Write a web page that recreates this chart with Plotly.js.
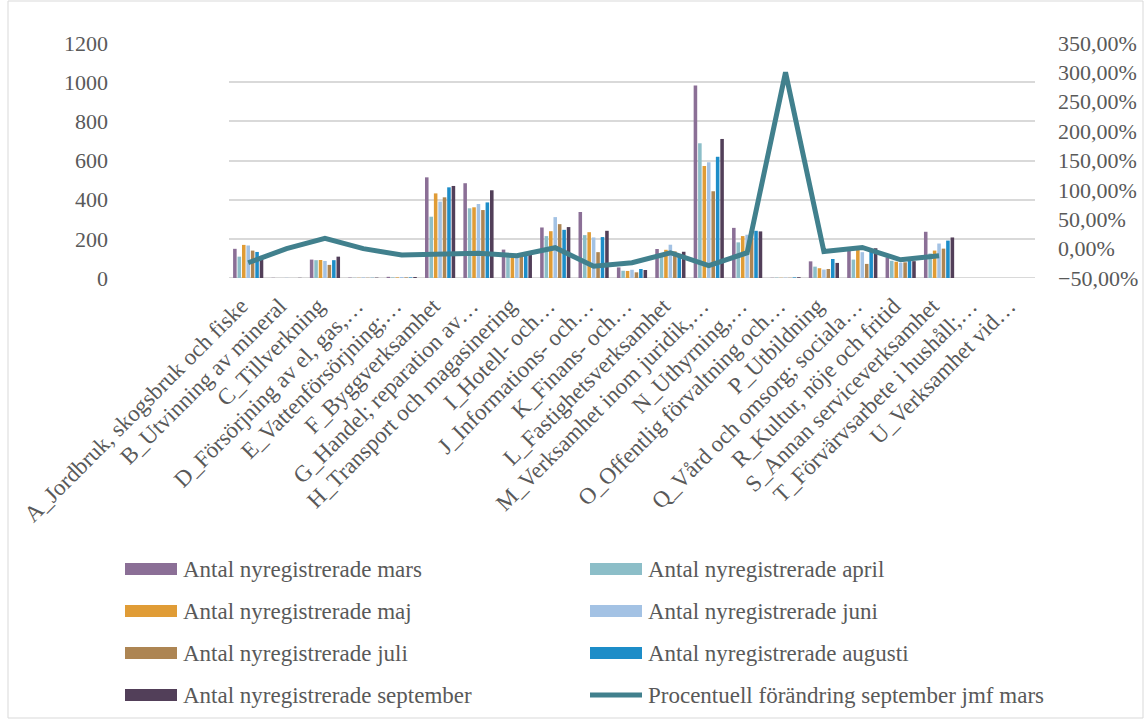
<!DOCTYPE html>
<html>
<head>
<meta charset="utf-8">
<script src="https://cdn.plot.ly/plotly-3.0.1.min.js"></script>
<style>
html,body{margin:0;padding:0;background:#fff;}
#chart{width:1144px;height:719px;}
</style>
</head>
<body>
<div id="chart"></div>
<script>
const categories = [
  "A_Jordbruk, skogsbruk och fiske",
  "B_Utvinning av mineral",
  "C_Tillverkning",
  "D_Försörjning av el, gas,…",
  "E_Vattenförsörjning;…",
  "F_Byggverksamhet",
  "G_Handel; reparation av…",
  "H_Transport och magasinering",
  "I_Hotell- och…",
  "J_Informations- och…",
  "K_Finans- och…",
  "L_Fastighetsverksamhet",
  "M_Verksamhet inom juridik,…",
  "N_Uthyrning,…",
  "O_Offentlig förvaltning och…",
  "P_Utbildning",
  "Q_Vård och omsorg; sociala…",
  "R_Kultur, nöje och fritid",
  "S_Annan serviceverksamhet",
  "T_Förvärvsarbete i hushåll;…",
  "U_Verksamhet vid…"
];
//                 A    B  C   D  E  F    G    H    I    J    K   L    M    N    O  P   Q    R    S    T  U
const mars      = [149, 1, 94, 2, 6, 514, 484, 145, 258, 337, 54, 148, 983, 256, 1, 85, 145, 105, 236, 0, 0];
const april     = [109, 0, 91, 1, 3, 313, 356, 110, 214, 219, 37, 115, 688, 182, 2, 58, 94,  88,  125, 0, 0];
const maj       = [169, 0, 92, 1, 3, 432, 361, 118, 239, 234, 36, 144, 572, 214, 1, 50, 145, 83,  140, 0, 0];
const juni      = [166, 1, 87, 3, 5, 390, 378, 115, 311, 207, 42, 170, 591, 221, 2, 43, 132, 78,  176, 0, 0];
const juli      = [140, 0, 67, 1, 3, 412, 347, 120, 275, 132, 29, 136, 443, 230, 1, 46, 72,  80,  150, 0, 0];
const augusti   = [133, 0, 91, 1, 3, 463, 386, 125, 246, 209, 46, 110, 619, 241, 3, 97, 137, 95,  191, 0, 0];
const september = [113, 1, 109, 2, 5, 470, 448, 128, 260, 241, 41, 134, 710, 238, 4, 77, 152, 86, 207, 0, 0];
const change    = [-0.24, 0.0, 0.175, 0.0, -0.11, -0.10, -0.08, -0.12, 0.015, -0.30, -0.24, -0.07, -0.29, -0.07, 3.00, -0.05, 0.02, -0.19, -0.12, null, null];

const barSeries = [
  {name: "Antal nyregistrerade mars", y: mars, color: "#8B6F96"},
  {name: "Antal nyregistrerade april", y: april, color: "#8CBEC8"},
  {name: "Antal nyregistrerade maj", y: maj, color: "#E09C36"},
  {name: "Antal nyregistrerade juni", y: juni, color: "#A3C2E4"},
  {name: "Antal nyregistrerade juli", y: juli, color: "#AD8553"},
  {name: "Antal nyregistrerade augusti", y: augusti, color: "#1D8DC8"},
  {name: "Antal nyregistrerade september", y: september, color: "#523F59"}
];
const lineName = "Procentuell förändring september jmf mars";
const lineColor = "#41808D";

const FONT = "'Liberation Serif', 'DejaVu Serif', serif";
const GRAY = "#595959";

const traces = barSeries.map(s => ({
  type: "bar", name: s.name, x: categories, y: s.y,
  marker: {color: s.color}, showlegend: false, hoverinfo: "x+y+name"
}));
traces.push({
  type: "scatter", mode: "lines", name: lineName, x: categories, y: change,
  yaxis: "y2", line: {color: lineColor, width: 5}, showlegend: false,
  connectgaps: false
});

// plot area in pixels
const W = 1144, H = 719;
const L = 229, R = 1035, T = 43, B = 278;
const px2x = p => (p - L) / (R - L);
const py2y = p => (B - p) / (B - T);

// manual legend (two columns)
const legendCols = [
  [barSeries[0], barSeries[2], barSeries[4], barSeries[6]],
  [barSeries[1], barSeries[3], barSeries[5], {name: lineName, color: lineColor, line: true}]
];
const colX = [125, 590];
const rowY = [569, 611, 653, 695];
const shapes = [], annotations = [];
legendCols.forEach((col, ci) => {
  col.forEach((s, ri) => {
    const x0 = colX[ci], yc = rowY[ri];
    if (s.line) {
      shapes.push({type: "line", xref: "paper", yref: "paper",
        x0: px2x(x0), x1: px2x(x0 + 52), y0: py2y(yc), y1: py2y(yc),
        line: {color: s.color, width: 5}});
    } else {
      shapes.push({type: "rect", xref: "paper", yref: "paper",
        x0: px2x(x0), x1: px2x(x0 + 52), y0: py2y(yc - 6), y1: py2y(yc + 6),
        fillcolor: s.color, line: {width: 0}});
    }
    annotations.push({xref: "paper", yref: "paper", x: px2x(x0 + 56), y: py2y(yc),
      xanchor: "left", yanchor: "middle", showarrow: false, text: s.name,
      font: {family: FONT, size: 23, color: GRAY}});
  });
});

const layout = {
  width: W, height: H,
  margin: {l: L, r: W - R, t: T, b: H - B, pad: 0},
  paper_bgcolor: "#fff", plot_bgcolor: "#fff",
  separators: ", ",
  barmode: "group", bargap: 0.19, bargroupgap: 0.2,
  font: {family: FONT, size: 22, color: GRAY},
  showlegend: false,
  xaxis: {
    type: "category", tickangle: -45, showgrid: false, zeroline: false,
    showline: false, ticks: "", tickfont: {family: FONT, size: 23, color: GRAY},
    ticklabelstandoff: 9, ticklabelshift: -7,
    automargin: false
  },
  yaxis: {
    range: [0, 1200], dtick: 200, showgrid: true, gridcolor: "#D9D9D9", gridwidth: 2,
    zeroline: false, showline: false, ticks: "", ticklabelstandoff: 120,
    tickfont: {family: FONT, size: 22, color: GRAY}, automargin: false
  },
  yaxis2: {
    overlaying: "y", side: "right", range: [-0.5, 3.5], dtick: 0.5, tickformat: ".2%",
    showgrid: false, zeroline: false, showline: false, ticks: "", ticklabelstandoff: 22,
    tickfont: {family: FONT, size: 22, color: GRAY}, automargin: false
  },
  shapes: shapes.concat([
    {type: "line", xref: "paper", yref: "y", x0: 0, x1: 1, y0: 0, y1: 0,
     line: {color: "#D9D9D9", width: 2}, layer: "below"},
    {type: "rect", xref: "paper", yref: "paper", x0: px2x(8), x1: px2x(1143), y0: py2y(1), y1: py2y(718),
     line: {color: "#D9D9D9", width: 1}, fillcolor: "rgba(0,0,0,0)"}
  ]),
  annotations: annotations
};

Plotly.newPlot("chart", traces, layout, {displayModeBar: false, staticPlot: true});
</script>
</body>
</html>
